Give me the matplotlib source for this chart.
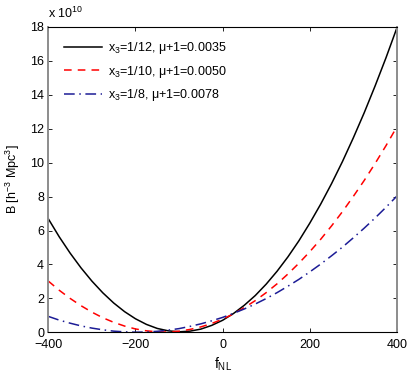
import numpy as np
import matplotlib
matplotlib.use('Agg')
import matplotlib.pyplot as plt

plt.rcParams['font.family'] = ['Liberation Sans', 'DejaVu Sans']
plt.rcParams['mathtext.fontset'] = 'custom'
plt.rcParams['mathtext.rm'] = 'Liberation Sans'
plt.rcParams['mathtext.it'] = 'Liberation Sans:italic'

# f_NL grid and B values (units of 1e10)
fnl = [-400, -375, -350, -325, -300, -275, -250, -225, -200, -175, -150,
       -125, -100, -75, -50, -25, 0, 25, 50, 75, 100, 125, 150, 175, 200,
       225, 250, 275, 300, 325, 350, 375, 400]

b_12 = [6.69, 5.63, 4.67, 3.80, 3.02, 2.33, 1.73, 1.22, 0.80, 0.47, 0.23,
        0.09, 0.03, 0.07, 0.19, 0.41, 0.71, 1.11, 1.60, 2.17, 2.84, 3.60,
        4.45, 5.39, 6.43, 7.55, 8.76, 10.06, 11.46, 12.94, 14.52, 16.18, 17.94]

b_10 = [3.02, 2.48, 2.00, 1.57, 1.19, 0.86, 0.59, 0.37, 0.20, 0.09, 0.03,
        0.02, 0.07, 0.17, 0.32, 0.52, 0.78, 1.09, 1.46, 1.87, 2.34, 2.86,
        3.44, 4.07, 4.75, 5.48, 6.27, 7.11, 8.01, 8.95, 9.95, 11.00, 12.11]

b_8 = [0.94, 0.72, 0.54, 0.38, 0.25, 0.15, 0.07, 0.03, 0.01, 0.02, 0.06,
       0.13, 0.22, 0.35, 0.50, 0.68, 0.88, 1.12, 1.38, 1.67, 1.99, 2.34,
       2.72, 3.12, 3.56, 4.02, 4.51, 5.02, 5.57, 6.14, 6.74, 7.37, 8.03]

labels = ['x$_3$=1/12, \u03bc+1=0.0035',
          'x$_3$=1/10, \u03bc+1=0.0050',
          'x$_3$=1/8, \u03bc+1=0.0078']

fig = plt.figure(figsize=(4.13, 3.73), dpi=100)
ax = fig.add_axes([0.117, 0.109, 0.844, 0.819])

ax.plot(fnl, b_12, color='black', lw=1.1, label=labels[0])
ax.plot(fnl, b_10, color='#ff0000', lw=1.1, ls=(0, (5, 4)), label=labels[1])
ax.plot(fnl, b_8, color='#1c1c96', lw=1.1, ls=(0, (7, 3, 1, 3)), label=labels[2])

ax.set_xlim(-400, 400)
ax.set_ylim(0, 18)
ax.set_xticks([-400, -200, 0, 200, 400])
ax.set_yticks(np.arange(0, 19, 2))
ax.tick_params(direction='in', top=True, right=True, labelsize=9,
               length=3, width=0.6)
ax.tick_params(axis='x', pad=5)
ax.tick_params(axis='y', pad=3)
for side in ['top', 'bottom']:
    ax.spines[side].set_color('black')
    ax.spines[side].set_linewidth(0.8)
for side in ['left', 'right']:
    ax.spines[side].set_color('#8c8c8c')
    ax.spines[side].set_linewidth(1.4)

ax.set_xlabel('f$_{\\rm NL}$', fontsize=10, labelpad=3)
ax.set_ylabel('B [h$^{-3}$ Mpc$^3$]', fontsize=9, labelpad=6)
ax.text(0.0, 1.02, 'x 10$^{10}$', transform=ax.transAxes, fontsize=9,
        ha='left', va='bottom')

leg = ax.legend(loc='upper left', bbox_to_anchor=(0.015, 0.99), frameon=False,
                fontsize=9, handlelength=3.1, handletextpad=0.45,
                labelspacing=0.62, borderaxespad=0.4)

fig.savefig('out.png', dpi=100)
